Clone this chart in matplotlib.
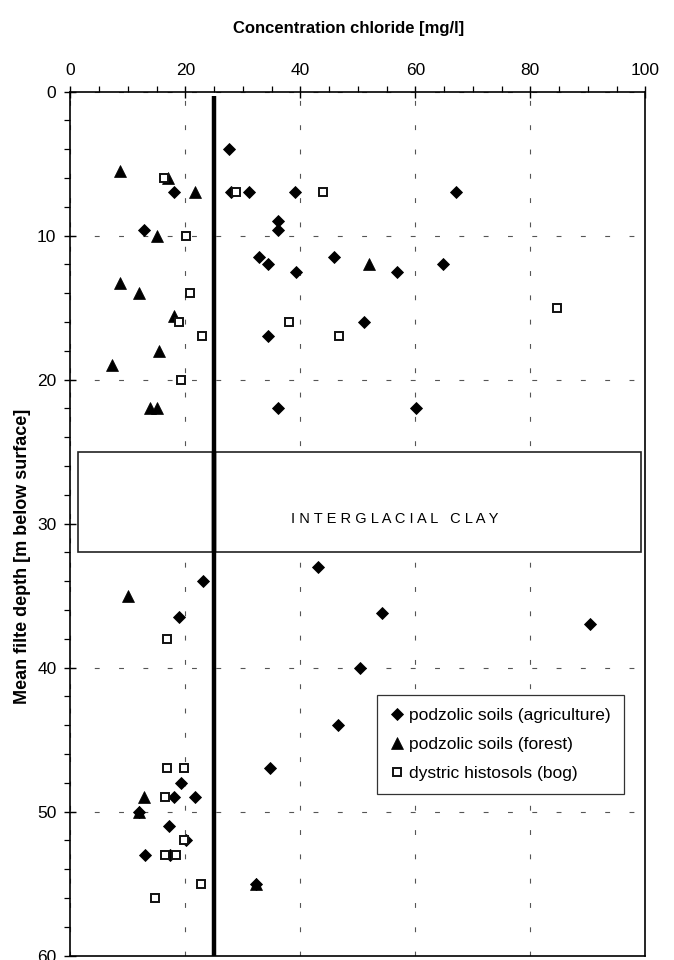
import matplotlib
matplotlib.use("Agg")
import matplotlib.pyplot as plt
from matplotlib.ticker import MultipleLocator
from matplotlib.patches import Rectangle

plt.rcParams['font.family'] = ['Liberation Sans', 'DejaVu Sans']
plt.rcParams['lines.scale_dashes'] = False

# podzolic soils (agriculture) - diamonds
agri_conc = [27.6, 18.0, 28.0, 31.1, 39.0, 67.0, 36.2, 36.2, 12.9, 32.9, 45.9, 34.4,
             64.9, 39.3, 56.9, 51.0, 34.3, 36.2, 60.2, 43.0, 23.0, 54.2, 18.9, 90.3,
             50.4, 46.6, 34.8, 19.2, 18.1, 21.6, 11.9, 17.2, 20.2, 13.0, 17.4, 32.3]
agri_depth = [4.0, 7.0, 7.0, 7.0, 7.0, 7.0, 9.0, 9.6, 9.6, 11.5, 11.5, 12.0,
              12.0, 12.5, 12.5, 16.0, 17.0, 22.0, 22.0, 33.0, 34.0, 36.2, 36.5, 37.0,
              40.0, 44.0, 47.0, 48.0, 49.0, 49.0, 50.0, 51.0, 52.0, 53.0, 53.0, 55.0]

# podzolic soils (forest) - triangles
forest_conc = [8.7, 17.0, 21.6, 15.0, 51.9, 8.7, 12.0, 18.1, 15.4, 7.3, 13.9, 15.1,
               10.0, 12.9, 11.9, 32.3]
forest_depth = [5.5, 6.0, 7.0, 10.0, 12.0, 13.3, 14.0, 15.6, 18.0, 19.0, 22.0, 22.0,
                35.0, 49.0, 50.0, 55.0]

# dystric histosols (bog) - open squares
bog_conc = [16.3, 28.9, 43.9, 20.1, 20.9, 84.6, 18.9, 38.0, 22.9, 46.8, 19.2, 16.8,
            16.9, 19.7, 16.5, 19.7, 16.5, 18.3, 22.7, 14.7]
bog_depth = [6.0, 7.0, 7.0, 10.0, 14.0, 15.0, 16.0, 16.0, 17.0, 17.0, 20.0, 38.0,
             47.0, 47.0, 49.0, 52.0, 53.0, 53.0, 55.0, 56.0]

limit_value = 25
clay_top, clay_bottom = 25, 32
clay_left, clay_right = 1.4, 99.2

fig = plt.figure(figsize=(6.74, 9.6), dpi=100)
ax = fig.add_axes([70.3 / 674, 1 - 955.5 / 960, 575 / 674, 863.8 / 960])

ax.set_xlim(0, 100)
ax.set_ylim(60, 0)

# grid
ax.xaxis.set_major_locator(MultipleLocator(20))
ax.xaxis.set_minor_locator(MultipleLocator(5))
ax.yaxis.set_major_locator(MultipleLocator(10))
ax.yaxis.set_minor_locator(MultipleLocator(2))
ax.grid(True, which='major', color='#555555', linewidth=0.8, linestyle=(0, (3.5, 14)))
ax.set_axisbelow(True)

# limit line
ax.plot([limit_value, limit_value], [0.3, 60], color='black', linewidth=3.2, zorder=3,
        solid_capstyle='butt')

# interglacial clay box
rect = Rectangle((clay_left, clay_top), clay_right - clay_left, clay_bottom - clay_top,
                 facecolor='white', edgecolor='#222222', linewidth=1.2, zorder=2)
ax.add_patch(rect)
ax.plot([limit_value, limit_value], [clay_top, clay_bottom], color='black', linewidth=3.2,
        zorder=3, solid_capstyle='butt')
ax.text(56.5, 29.7, "I N T E R G L A C I A L   C L A Y", ha='center', va='center',
        fontsize=10.5, zorder=4)

# data
ax.plot(agri_conc, agri_depth, linestyle='none', marker='D', markersize=6.4,
        markerfacecolor='black', markeredgecolor='black', markeredgewidth=0.6,
        zorder=5, label='podzolic soils (agriculture)')
ax.plot(forest_conc, forest_depth, linestyle='none', marker='^', markersize=9,
        markerfacecolor='black', markeredgecolor='black', markeredgewidth=0.5,
        zorder=6, label='podzolic soils (forest)')
ax.plot(bog_conc, bog_depth, linestyle='none', marker='s', markersize=6.2,
        markerfacecolor='white', markeredgecolor='#111111', markeredgewidth=1.4,
        zorder=7, label='dystric histosols (bog)')

# axes styling
ax.xaxis.tick_top()
ax.xaxis.set_label_position('top')
for s in ax.spines.values():
    s.set_linewidth(1.2)
    s.set_color('black')
ax.tick_params(which='major', direction='inout', length=8, width=1.0, labelsize=12.5,
               pad=6)
ax.tick_params(which='minor', direction='out', length=4, width=0.9)
ax.tick_params(axis='x', which='both', top=True, bottom=False)
ax.tick_params(axis='y', which='both', left=True, right=False)

ax.set_xlabel('Concentration chloride [mg/l]', fontsize=12, fontweight='bold')
ax.set_ylabel('Mean filte depth [m below surface]', fontsize=13, fontweight='bold')
ax.xaxis.set_label_coords(0.4847, 1.068)
ax.yaxis.set_label_coords(-0.068, 0.4625)

leg = ax.legend(loc='upper left', bbox_to_anchor=(0.533, 1 - 41.9 / 60), fontsize=12.5,
                frameon=True, fancybox=False, framealpha=1, edgecolor='#333333',
                borderpad=0.75, handlelength=0.8, handletextpad=0.3, labelspacing=0.8,
                borderaxespad=0, markerscale=0.9)
leg.get_frame().set_linewidth(0.9)
leg.set_zorder(10)

fig.savefig('out.png', dpi=100)
